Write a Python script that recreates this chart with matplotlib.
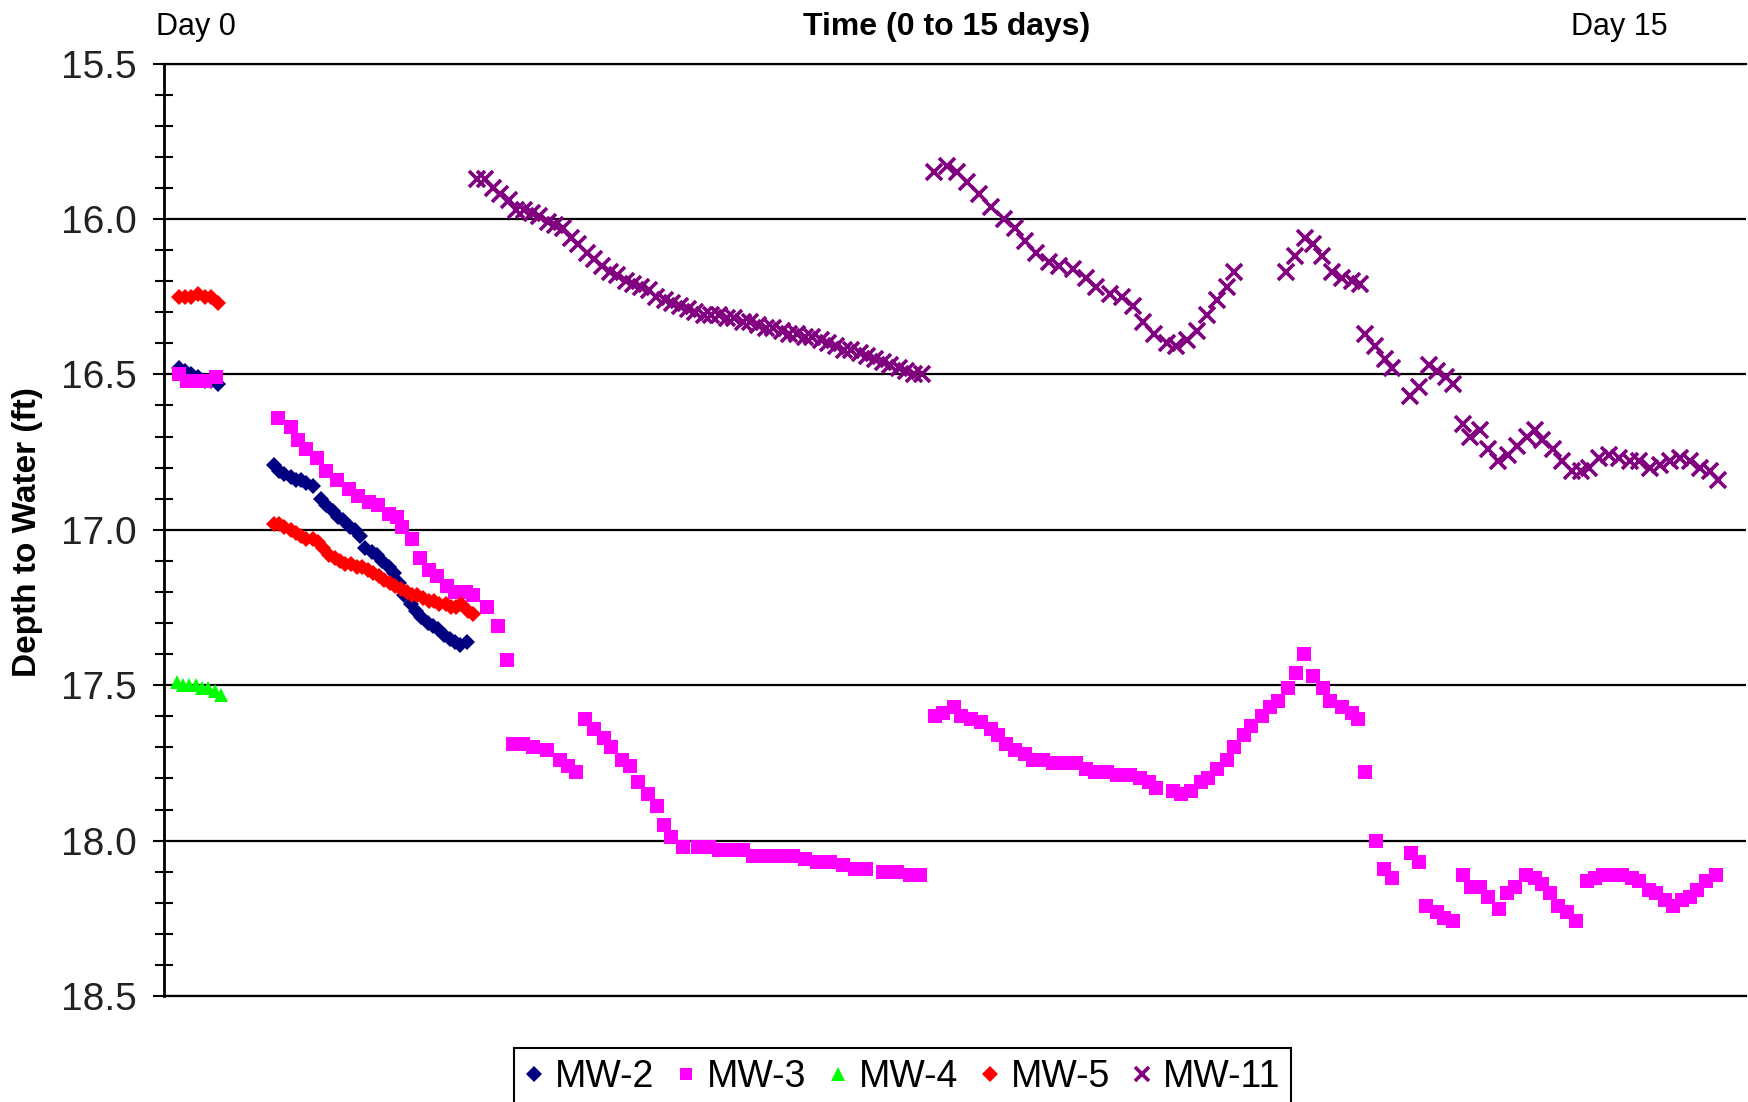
import matplotlib
matplotlib.use('Agg')
import matplotlib.pyplot as plt
from matplotlib.ticker import MultipleLocator, FormatStrFormatter

plt.rcParams['font.family'] = ['Liberation Sans', 'DejaVu Sans']

# time in days since start of logging, depth to water in ft
mw2_day = [0.14, 0.20, 0.26, 0.32, 0.39, 0.45, 0.51,
           1.04, 1.09, 1.14, 1.20, 1.25, 1.30, 1.35, 1.41, 1.49, 1.54,
           1.60, 1.65, 1.70, 1.76, 1.81, 1.86, 1.91, 1.97, 2.02, 2.07,
           2.13, 2.18, 2.23, 2.28, 2.34, 2.39, 2.44, 2.50, 2.55, 2.60,
           2.66, 2.71, 2.76, 2.81, 2.87]
mw2_val = [16.48, 16.49, 16.50, 16.51, 16.52, 16.52, 16.53,
           16.79, 16.81, 16.82, 16.83, 16.84, 16.84, 16.85, 16.86, 16.90, 16.92,
           16.94, 16.96, 16.97, 16.99, 17.00, 17.02, 17.06, 17.07, 17.08, 17.10,
           17.12, 17.14, 17.17, 17.21, 17.24, 17.26, 17.28, 17.30, 17.31, 17.32,
           17.34, 17.35, 17.36, 17.37, 17.36]

mw3_day = [0.14, 0.22, 0.31, 0.39, 0.49,
           1.08, 1.20, 1.27, 1.35, 1.45, 1.54, 1.64, 1.75, 1.84, 1.94,
           2.03, 2.13, 2.21, 2.26, 2.35, 2.43, 2.51, 2.59, 2.68, 2.76,
           2.86, 2.93, 3.06, 3.17, 3.25,
           3.31, 3.40, 3.50, 3.63, 3.76, 3.83, 3.91,
           3.99, 4.08, 4.17, 4.24, 4.34, 4.42, 4.50, 4.59, 4.68, 4.74,
           4.81, 4.92, 5.06, 5.17, 5.26, 5.36, 5.49, 5.59, 5.71, 5.84,
           5.97, 6.08, 6.19, 6.32, 6.44, 6.55, 6.66, 6.82, 6.95, 7.08, 7.17,
           7.31, 7.39, 7.49, 7.56, 7.65, 7.75, 7.84, 7.91, 7.99, 8.07,
           8.17, 8.24, 8.34, 8.43, 8.55, 8.65, 8.74, 8.83, 8.94, 9.04,
           9.16, 9.26, 9.34, 9.41, 9.57, 9.65, 9.74, 9.84, 9.90, 9.99,
           10.08, 10.15, 10.24, 10.31, 10.41, 10.49, 10.57, 10.66, 10.74, 10.81,
           10.90, 10.99, 11.06, 11.17, 11.27, 11.32,
           11.39, 11.50, 11.57, 11.65, 11.83, 11.90, 11.97, 12.07, 12.14, 12.23,
           12.32, 12.40, 12.48, 12.56, 12.66, 12.74, 12.81, 12.92, 13.00, 13.07,
           13.15, 13.22, 13.31, 13.39, 13.50, 13.57, 13.65, 13.74, 13.83, 13.92,
           13.99, 14.08, 14.15, 14.24, 14.31, 14.40, 14.47, 14.54, 14.63, 14.72]
mw3_val = [16.50, 16.52, 16.52, 16.52, 16.51,
           16.64, 16.67, 16.71, 16.74, 16.77, 16.81, 16.84, 16.87, 16.89, 16.91,
           16.92, 16.95, 16.96, 16.99, 17.03, 17.09, 17.13, 17.15, 17.18, 17.20,
           17.20, 17.21, 17.25, 17.31, 17.42,
           17.69, 17.69, 17.70, 17.71, 17.74, 17.76, 17.78,
           17.61, 17.64, 17.67, 17.70, 17.74, 17.76, 17.81, 17.85, 17.89, 17.95,
           17.99, 18.02, 18.02, 18.02, 18.03, 18.03, 18.03, 18.05, 18.05, 18.05,
           18.05, 18.06, 18.07, 18.07, 18.08, 18.09, 18.09, 18.10, 18.10, 18.11, 18.11,
           17.60, 17.59, 17.57, 17.60, 17.61, 17.62, 17.64, 17.66, 17.69, 17.71,
           17.72, 17.74, 17.74, 17.75, 17.75, 17.75, 17.77, 17.78, 17.78, 17.79,
           17.79, 17.80, 17.81, 17.83, 17.84, 17.85, 17.84, 17.81, 17.80, 17.77,
           17.74, 17.70, 17.66, 17.63, 17.60, 17.57, 17.55, 17.51, 17.46, 17.40,
           17.47, 17.51, 17.55, 17.57, 17.59, 17.61,
           17.78, 18.00, 18.09, 18.12, 18.04, 18.07, 18.21, 18.23, 18.25, 18.26,
           18.11, 18.15, 18.15, 18.18, 18.22, 18.17, 18.15, 18.11, 18.12, 18.14,
           18.17, 18.21, 18.23, 18.26, 18.13, 18.12, 18.11, 18.11, 18.11, 18.12,
           18.13, 18.16, 18.17, 18.19, 18.21, 18.19, 18.18, 18.16, 18.13, 18.11]

mw4_day = [0.12, 0.18, 0.24, 0.30, 0.36, 0.42, 0.48, 0.54]
mw4_val = [17.49, 17.50, 17.50, 17.50, 17.51, 17.51, 17.52, 17.53]

mw5_day = [0.14, 0.20, 0.26, 0.32, 0.39, 0.45, 0.51,
           1.04, 1.09, 1.14, 1.20, 1.25, 1.30, 1.35, 1.41, 1.46, 1.51,
           1.56, 1.62, 1.67, 1.72, 1.77, 1.83, 1.88, 1.93, 1.98, 2.04,
           2.09, 2.14, 2.19, 2.25, 2.30, 2.35, 2.40, 2.46, 2.51, 2.56,
           2.61, 2.67, 2.72, 2.77, 2.82, 2.88, 2.93]
mw5_val = [16.25, 16.25, 16.25, 16.24, 16.25, 16.25, 16.27,
           16.98, 16.98, 16.99, 17.00, 17.01, 17.02, 17.03, 17.03, 17.04, 17.06,
           17.08, 17.09, 17.10, 17.11, 17.11, 17.12, 17.12, 17.13, 17.14, 17.15,
           17.16, 17.17, 17.18, 17.19, 17.20, 17.21, 17.21, 17.22, 17.23, 17.23,
           17.24, 17.24, 17.25, 17.25, 17.24, 17.26, 17.27]

mw11_day = [2.97, 3.04, 3.12, 3.19, 3.27, 3.34, 3.41, 3.49, 3.56, 3.64,
            3.71, 3.78, 3.86, 3.93, 4.01, 4.08, 4.15, 4.23, 4.30, 4.38,
            4.45, 4.52, 4.60, 4.67, 4.75, 4.82, 4.89, 4.97, 5.04, 5.12,
            5.19, 5.26, 5.34, 5.41, 5.49, 5.56, 5.63, 5.71, 5.78, 5.86,
            5.93, 6.00, 6.08, 6.15, 6.23, 6.30, 6.37, 6.45, 6.52, 6.60,
            6.67, 6.74, 6.82, 6.89, 6.97, 7.04, 7.11, 7.19,
            7.30, 7.43, 7.52, 7.62, 7.73, 7.84, 7.97, 8.07, 8.17, 8.27,
            8.39, 8.49, 8.62, 8.74, 8.84, 8.97, 9.09, 9.19, 9.29, 9.39,
            9.51, 9.60, 9.70, 9.80, 9.89, 9.99, 10.08, 10.15,
            10.64, 10.73, 10.82, 10.90, 10.98, 11.08, 11.17, 11.27, 11.34,
            11.39, 11.49, 11.58, 11.65, 11.82, 11.90, 12.00, 12.07, 12.16, 12.23,
            12.32, 12.39, 12.48, 12.56, 12.65, 12.75, 12.83, 12.93, 13.00, 13.07,
            13.17, 13.26, 13.35, 13.44, 13.52, 13.61, 13.71, 13.80, 13.90, 13.99,
            14.09, 14.19, 14.28, 14.38, 14.47, 14.57, 14.66, 14.74]
mw11_val = [15.87, 15.87, 15.90, 15.92, 15.94, 15.97, 15.97, 15.98, 15.99, 16.01,
            16.02, 16.03, 16.06, 16.08, 16.11, 16.13, 16.15, 16.17, 16.18, 16.20,
            16.21, 16.22, 16.23, 16.25, 16.26, 16.27, 16.28, 16.29, 16.30, 16.31,
            16.31, 16.31, 16.32, 16.32, 16.33, 16.33, 16.34, 16.35, 16.35, 16.36,
            16.37, 16.37, 16.38, 16.38, 16.39, 16.40, 16.41, 16.42, 16.42, 16.43,
            16.44, 16.45, 16.46, 16.47, 16.48, 16.49, 16.50, 16.50,
            15.85, 15.83, 15.85, 15.88, 15.92, 15.96, 16.00, 16.03, 16.07, 16.11,
            16.14, 16.15, 16.16, 16.19, 16.22, 16.24, 16.25, 16.28, 16.33, 16.37,
            16.40, 16.41, 16.39, 16.36, 16.31, 16.26, 16.22, 16.17,
            16.17, 16.12, 16.06, 16.08, 16.12, 16.17, 16.19, 16.20, 16.21,
            16.37, 16.41, 16.45, 16.48, 16.57, 16.54, 16.47, 16.49, 16.51, 16.53,
            16.66, 16.70, 16.68, 16.74, 16.78, 16.76, 16.73, 16.70, 16.68, 16.71,
            16.74, 16.78, 16.81, 16.81, 16.80, 16.77, 16.76, 16.77, 16.78, 16.78,
            16.80, 16.79, 16.78, 16.77, 16.78, 16.80, 16.81, 16.84]

fig = plt.figure(figsize=(17.49, 11.02), dpi=100)
ax = fig.add_axes([0.0938, 0.0962, 0.9042, 0.8461])

ax.plot(mw2_day, mw2_val, ls='none', marker='D', ms=8.5, color='#000080', mew=0, label='MW-2')
ax.plot(mw3_day, mw3_val, ls='none', marker='s', ms=9.5, color='#FF00FF', mew=0, label='MW-3')
ax.plot(mw4_day, mw4_val, ls='none', marker='^', ms=10.5, color='#00FF00', mew=0, label='MW-4')
ax.plot(mw5_day, mw5_val, ls='none', marker='D', ms=8.5, color='#FF0000', mew=0, label='MW-5')
ax.plot(mw11_day, mw11_val, ls='none', marker='x', ms=11, color='#800080', mew=2.6, label='MW-11')

ax.set_xlim(0, 15)
ax.set_ylim(18.5, 15.5)
ax.yaxis.set_major_locator(MultipleLocator(0.5))
ax.yaxis.set_minor_locator(MultipleLocator(0.1))
ax.yaxis.set_major_formatter(FormatStrFormatter('%.1f'))
ax.tick_params(axis='y', which='major', direction='out', length=8, width=1.5,
               labelsize=28, pad=12, colors='black', labelcolor='#222222')
ax.tick_params(axis='y', which='minor', direction='inout', length=13, width=1.5)
ax.tick_params(axis='x', which='both', bottom=False, labelbottom=False)
ax.grid(axis='y', which='major', color='black', lw=1.6)
ax.set_axisbelow(True)
ax.spines['right'].set_visible(False)
ax.spines['left'].set_linewidth(2)
ax.spines['top'].set_linewidth(1.6)
ax.spines['bottom'].set_linewidth(1.6)

fig.text(0.016, 0.517, 'Depth to Water (ft)', rotation=90, fontsize=24,
         fontweight='bold', ha='center', va='center')
fig.text(0.112, 0.9755, 'Day 0', fontsize=22, ha='center', va='center')
fig.text(0.541, 0.9755, 'Time (0 to 15 days)', fontsize=23, fontweight='bold',
         ha='center', va='center')
fig.text(0.926, 0.9755, 'Day 15', fontsize=22, ha='center', va='center')

leg = fig.legend(loc='upper center', bbox_to_anchor=(0.516, 0.049), ncol=5,
                 frameon=True, fancybox=False, edgecolor='black', framealpha=1,
                 fontsize=27, handlelength=0.5, handletextpad=0.3,
                 columnspacing=0.6, borderpad=0.3, borderaxespad=0,
                 markerscale=0.9)
leg.get_frame().set_linewidth(1.5)

plt.savefig('out.png', dpi=100)
